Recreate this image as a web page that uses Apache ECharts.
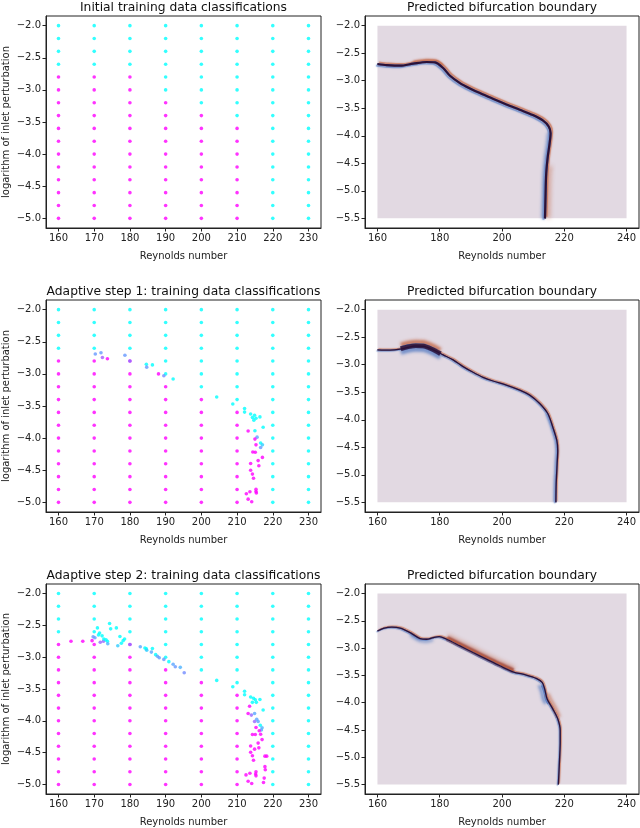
<!DOCTYPE html>
<html>
<head>
<meta charset="utf-8">
<script src="https://cdn.jsdelivr.net/npm/echarts@6/dist/echarts.min.js"></script>
<style>
  html, body { margin: 0; padding: 0; background: #fff; }
  #chart { width: 640px; height: 828px; }
</style>
</head>
<body>
<div id="chart"></div>
<script>
// ---- data ----
const gridRe = [160, 170, 180, 190, 200, 210, 220, 230];
const gridLogP = [-2.0, -2.2, -2.4, -2.6, -2.8, -3.0, -3.2, -3.4, -3.6, -3.8, -4.0, -4.2, -4.4, -4.6, -4.8, -5.0];
// one string per logP row, one char per Re column: 0 = unstable (cyan), 1 = stable (magenta)
const initialGrid = [
  "00000000", "00000000", "00000000", "00000000",
  "11100000", "11100000", "11110000", "11111000",
  "11111100", "11111100", "11111100", "11111100",
  "11111100", "11111100", "11111100", "11111100"
];

// adaptive samples: [Re, logP, class value 0..1]
const step1Points = [
  [170.3, -2.69, 0.4], [171.9, -2.67, 0.4], [172.3, -2.745, 0.65], [173.7, -2.765, 1],
  [178.6, -2.71, 0.4], [180, -2.8, 0.55], [184.6, -2.85, 0], [184.7, -2.895, 0.4],
  [186.3, -2.86, 0], [188.0, -3.0, 1], [189.5, -3.03, 0.45], [192.1, -3.08, 0],
  [204.3, -3.36, 0], [208.8, -3.47, 0], [212.1, -3.54, 0], [212.1, -3.595, 0],
  [213.8, -3.625, 0], [214.9, -3.645, 0], [214.3, -3.68, 0], [215.3, -3.69, 0],
  [214.7, -3.72, 0], [216.4, -3.67, 0], [217.3, -3.83, 0], [213.1, -3.89, 1],
  [215.0, -3.885, 0], [215.6, -3.985, 0.35], [215.0, -4.015, 1], [216.6, -4.075, 0],
  [217.1, -4.105, 0.2], [216.6, -4.145, 0.4], [215.3, -4.105, 1], [214.4, -4.215, 1],
  [215.1, -4.22, 1], [217.1, -4.3, 1], [215.9, -4.35, 1], [213.8, -4.395, 1],
  [216.1, -4.43, 1], [213.8, -4.5, 1], [214.3, -4.56, 1], [214.6, -4.625, 1],
  [215.3, -4.795, 1], [215.3, -4.83, 1], [213.6, -4.835, 1], [215.4, -4.855, 1],
  [212.6, -4.865, 1], [213.1, -4.95, 1], [214.1, -4.99, 1]
];

const step2Points = [
  [163.5, -2.75, 1], [166.8, -2.75, 1], [169.4, -2.74, 1],
  [170.9, -2.54, 0], [171.5, -2.62, 0], [171.2, -2.65, 0], [169.7, -2.68, 0.4],
  [170.2, -2.695, 0.4], [172.2, -2.665, 0], [171.7, -2.765, 0.6], [172.6, -2.75, 0.6],
  [172.7, -2.715, 0], [173.3, -2.725, 0], [173.7, -2.75, 0], [173.8, -2.79, 0.3],
  [174.3, -2.47, 0], [174.6, -2.555, 0], [176.2, -2.54, 0], [177.2, -2.675, 0],
  [176.6, -2.82, 0.2], [177.6, -2.78, 0], [178.1, -2.74, 0], [178.5, -2.715, 0],
  [180, -2.8, 0.55], [182.9, -2.835, 0.35], [184.2, -2.855, 0], [184.6, -2.87, 0],
  [184.7, -2.89, 0.2], [186.3, -2.865, 0], [186.0, -2.92, 0.35], [187.2, -2.96, 0],
  [187.7, -2.985, 0.35], [188.2, -3.01, 0.4], [189.5, -3.035, 0.4], [190.9, -3.07, 0],
  [192.1, -3.11, 0.35], [192.7, -3.15, 0.4], [194.1, -3.16, 0.3], [195.2, -3.245, 0.45],
  [204.3, -3.365, 0], [208.8, -3.465, 0], [212.1, -3.535, 0], [212.1, -3.59, 0],
  [213.8, -3.625, 0], [214.6, -3.645, 0], [215.1, -3.67, 0], [214.3, -3.71, 0],
  [215.4, -3.71, 0], [216.4, -3.665, 0], [217.3, -3.83, 0],
  [213.5, -3.77, 1], [213.1, -3.885, 1], [214.0, -3.91, 0.6], [214.9, -3.885, 0.35],
  [215.5, -3.975, 0.35], [214.9, -4.01, 0.6], [215.9, -4.01, 0.35], [216.5, -4.07, 0],
  [217.0, -4.11, 0.3], [216.8, -4.145, 0.35],
  [215.3, -4.105, 1], [216.2, -4.155, 1], [214.3, -4.215, 1], [215.1, -4.215, 1],
  [216.6, -4.21, 1], [217.0, -4.295, 1], [215.9, -4.35, 1], [213.8, -4.395, 1],
  [216.1, -4.425, 1], [214.9, -4.445, 1], [213.8, -4.495, 1], [217.8, -4.555, 1],
  [218.3, -4.555, 1], [214.3, -4.55, 1], [214.6, -4.62, 1], [217.8, -4.72, 1],
  [217.9, -4.77, 1], [215.3, -4.8, 1], [213.6, -4.825, 1], [215.2, -4.835, 1],
  [212.5, -4.85, 1], [215.3, -4.865, 1], [217.6, -4.9, 1], [213.1, -4.95, 1],
  [214.1, -4.985, 1], [217.4, -4.97, 1]
];

// predicted domain and boundary curves (p = 0.5 contour)
const predRe = [160, 240];
const predLogP = [-2.0, -5.5];

const boundary0 = [
  [160, -2.697], [163, -2.716], [167.3, -2.728], [171.5, -2.691], [175.8, -2.66],
  [178.5, -2.667], [181.1, -2.77], [183.3, -2.91], [186.5, -3.043], [189.7, -3.14],
  [192.9, -3.225], [197.1, -3.328], [201.4, -3.431], [205.7, -3.528], [209.9, -3.625],
  [213.1, -3.722], [215.0, -3.831], [215.6, -3.953], [215.3, -4.135], [214.7, -4.377],
  [214.2, -4.68], [214.0, -5.044], [213.8, -5.5]
];
const boundary1 = [
  [160, -2.73], [164.1, -2.736], [167.3, -2.718], [169.4, -2.69], [172.1, -2.66],
  [174.7, -2.665], [177.9, -2.73], [181.1, -2.822], [184.3, -2.913], [187.5, -3.035],
  [190.7, -3.138], [193.9, -3.229], [197.1, -3.296], [201.4, -3.369], [205.7, -3.461],
  [208.9, -3.552], [212.1, -3.704], [214.7, -3.887], [216.3, -4.131], [217.6, -4.374],
  [217.9, -4.556], [217.7, -4.8], [217.4, -5.165], [217.3, -5.5]
];
const boundary2 = [
  [160, -2.687], [161.9, -2.638], [164.6, -2.614], [167.3, -2.632], [170.5, -2.717],
  [173.7, -2.826], [175.8, -2.838], [177.9, -2.808], [179.8, -2.79], [182.2, -2.838],
  [186.5, -2.96], [190.7, -3.081], [195.0, -3.203], [199.3, -3.324], [203.5, -3.434],
  [207.8, -3.494], [211.0, -3.555], [212.9, -3.628], [213.7, -3.75], [214.5, -3.932],
  [216.3, -4.114], [217.9, -4.296], [218.7, -4.509], [218.7, -4.722], [218.5, -5.025],
  [218.1, -5.5]
];

// stretches of the boundary where the transition is wider
const wide0Top = [[171.5, -2.691], [175.8, -2.66], [178.5, -2.667], [181.1, -2.77]];
const wide0Left = [[215.6, -3.953], [215.3, -4.135], [214.7, -4.377], [214.2, -4.68], [214.0, -5.044], [213.8, -5.5]];
const wide0Right = [[214.5, -4.55], [214.2, -4.68], [214.0, -5.044], [213.8, -5.5]];
const wide1Blob = [[167.5, -2.71], [169.8, -2.675], [172.3, -2.655], [174.7, -2.66], [177.4, -2.715], [180.2, -2.8]];
const wide1Left = [[214.7, -3.887], [216.3, -4.131], [217.6, -4.374], [217.9, -4.556], [217.7, -4.8], [217.4, -5.165], [217.3, -5.5]];
const wide2Top = [[182.2, -2.838], [186.5, -2.96], [190.7, -3.081], [195.0, -3.203], [199.3, -3.324], [203.5, -3.434]];
const wide2Low = [[170.5, -2.717], [173.7, -2.826], [175.8, -2.838], [177.9, -2.808]];
const wide2Left = [[212.9, -3.68], [213.7, -3.8], [214.2, -3.93], [215.0, -4.02]];
const wide2Right = [[213.9, -3.85], [214.5, -3.932], [216.3, -4.114], [217.6, -4.28]];

// ---- chart ----
const FONT = "DejaVu Sans";
const INK = "#222";
const cool = ["#00ffff", "#ff00ff"];
const rowTops = [16, 300, 584];
const rowH = 212;
const leftCol = { left: 46, width: 275 };
const rightCol = { left: 365, width: 274 };

const leftTitles = [
  "Initial training data classifications",
  "Adaptive step 1: training data classifications",
  "Adaptive step 2: training data classifications"
];

const minus = v => (v < 0 ? "\u2212" : "") + Math.abs(v);
const fmt1 = v => (v < 0 ? "\u2212" : "") + Math.abs(v).toFixed(1);

function gridPoints(extra) {
  const pts = [];
  gridLogP.forEach((y, r) => {
    gridRe.forEach((x, c) => {
      pts.push([x, y, Number(initialGrid[r][c])]);
    });
  });
  return pts.concat(extra);
}

const grids = [], xAxes = [], yAxes = [], series = [], graphics = [];

function axisPair(gi, isLeft) {
  const xTicks = isLeft ? gridRe : [160, 180, 200, 220, 240];
  const yTicks = isLeft
    ? [-5.0, -4.5, -4.0, -3.5, -3.0, -2.5, -2.0]
    : [-5.5, -5.0, -4.5, -4.0, -3.5, -3.0, -2.5, -2.0];
  xAxes.push({
    type: "value", gridIndex: gi,
    min: isLeft ? 156.5 : 156, max: isLeft ? 233.5 : 244,
    name: "Reynolds number", nameLocation: "middle", nameGap: 23,
    nameTextStyle: { fontFamily: FONT, fontSize: 10, color: INK },
    axisLine: { show: true, onZero: false, lineStyle: { color: INK, width: 1 } },
    axisTick: { show: true, length: 3.5, lineStyle: { color: INK }, customValues: xTicks },
    axisLabel: { customValues: xTicks, formatter: minus, fontFamily: FONT, fontSize: 10, color: INK, margin: 5 },
    splitLine: { show: false }
  });
  yAxes.push({
    type: "value", gridIndex: gi,
    min: isLeft ? -5.15 : -5.675, max: isLeft ? -1.85 : -1.825,
    name: isLeft ? "logarithm of inlet perturbation" : "",
    nameLocation: "middle", nameGap: 35,
    nameTextStyle: { fontFamily: FONT, fontSize: 10, color: INK },
    axisLine: { show: true, onZero: false, lineStyle: { color: INK, width: 1 } },
    axisTick: { show: true, length: 3.5, lineStyle: { color: INK }, customValues: yTicks },
    axisLabel: { customValues: yTicks, formatter: fmt1, fontFamily: FONT, fontSize: 10, color: INK, margin: 5 },
    splitLine: { show: false }
  });
}

function halo(gi, pts, color, w, dx, dy, blur, z) {
  return {
    type: "line", xAxisIndex: gi, yAxisIndex: gi, data: pts, symbol: "none",
    smooth: 0.3, silent: true, z: z,
    lineStyle: { color: color, width: w, shadowColor: color, shadowBlur: blur, shadowOffsetX: dx, shadowOffsetY: dy }
  };
}
function core(gi, pts, w, z, opacity) {
  return {
    type: "line", xAxisIndex: gi, yAxisIndex: gi, data: pts, symbol: "none",
    smooth: 0.3, silent: true, z: z,
    lineStyle: { color: "#2c1238", width: w, opacity: opacity == null ? 1 : opacity }
  };
}

const RED = "rgba(196,104,70,0.9)";
const DEEPRED = "rgba(160,70,55,0.95)";
const BLUE = "rgba(92,128,196,0.9)";
const scatterSeries = [];

rowTops.forEach((top, row) => {
  const gl = row * 2, gr = row * 2 + 1;
  grids.push({ left: leftCol.left, width: leftCol.width, top: top, height: rowH, show: true, borderColor: INK, borderWidth: 1, backgroundColor: "#fff" });
  grids.push({ left: rightCol.left, width: rightCol.width, top: top, height: rowH, show: true, borderColor: INK, borderWidth: 1, backgroundColor: "#fff" });
  axisPair(gl, true);
  axisPair(gr, false);

  graphics.push({ type: "text", x: leftCol.left + leftCol.width / 2, y: top - 8.5,
    style: { text: leftTitles[row], align: "center", verticalAlign: "middle", font: "12.3px " + FONT, fill: "#111" } });
  graphics.push({ type: "text", x: rightCol.left + rightCol.width / 2, y: top - 8.5,
    style: { text: "Predicted bifurcation boundary", align: "center", verticalAlign: "middle", font: "12.3px " + FONT, fill: "#111" } });

  const extra = row === 0 ? [] : row === 1 ? step1Points : step2Points;
  scatterSeries.push(series.length);
  series.push({
    type: "scatter", xAxisIndex: gl, yAxisIndex: gl, data: gridPoints(extra),
    symbolSize: 3.6, silent: true
  });

  // background of the predicted field
  series.push({
    type: "line", xAxisIndex: gr, yAxisIndex: gr, data: [], silent: true, z: 1,
    markArea: { silent: true, itemStyle: { color: "#e2d9e2" },
      data: [[{ coord: [predRe[0], predLogP[0]] }, { coord: [predRe[1], predLogP[1]] }]] }
  });
});

// boundary, panel row 0
series.push(halo(1, wide0Top, RED, 2, 0, -2.2, 2, 3));
series.push(halo(1, wide0Right, RED, 2, 3.5, 0, 4, 3));
series.push(halo(1, wide0Left, BLUE, 2, -2.6, 0, 3, 3));
series.push(halo(1, boundary0, RED, 2.2, 1.5, -1.5, 1.2, 4));
series.push(halo(1, boundary0, BLUE, 2.2, -1.5, 1.5, 1.2, 5));
series.push(core(1, boundary0, 2.2, 6));

// boundary, panel row 1
series.push(halo(3, wide1Blob, RED, 5, 0, -3.5, 3, 3));
series.push(halo(3, wide1Blob, BLUE, 5, 0, 3.5, 3, 3));
series.push(halo(3, wide1Left, BLUE, 1.4, -2, 0, 2, 3));
series.push(halo(3, boundary1, RED, 1.3, 1, -1, 1, 4));
series.push(halo(3, boundary1, BLUE, 1.3, -1, 1, 1, 5));
series.push(core(3, boundary1, 1.3, 6));
series.push(core(3, wide1Blob, 4.5, 6, 0.85));

// boundary, panel row 2
series.push(halo(5, wide2Top, RED, 2, 1.5, -3.5, 4, 3));
series.push(halo(5, wide2Top, DEEPRED, 3.5, 0.8, -1.6, 2, 3));
series.push(halo(5, wide2Low, BLUE, 2, 0, 2.5, 3, 3));
series.push(halo(5, wide2Left, BLUE, 3, -3, 0, 3, 3));
series.push(halo(5, wide2Right, RED, 2, 3, -1, 3, 3));
series.push(halo(5, boundary2, RED, 1.3, 1, -1, 1, 4));
series.push(halo(5, boundary2, BLUE, 1.3, -1, 1, 1, 5));
series.push(core(5, boundary2, 1.3, 6));

const chart = echarts.init(document.getElementById("chart"), null, { renderer: "canvas" });
chart.setOption({
  backgroundColor: "#fff",
  animation: false,
  grid: grids,
  xAxis: xAxes,
  yAxis: yAxes,
  visualMap: [{
    type: "continuous", show: false, min: 0, max: 1, dimension: 2,
    seriesIndex: scatterSeries, inRange: { color: cool }
  }],
  graphic: graphics,
  series: series
});
</script>
</body>
</html>
